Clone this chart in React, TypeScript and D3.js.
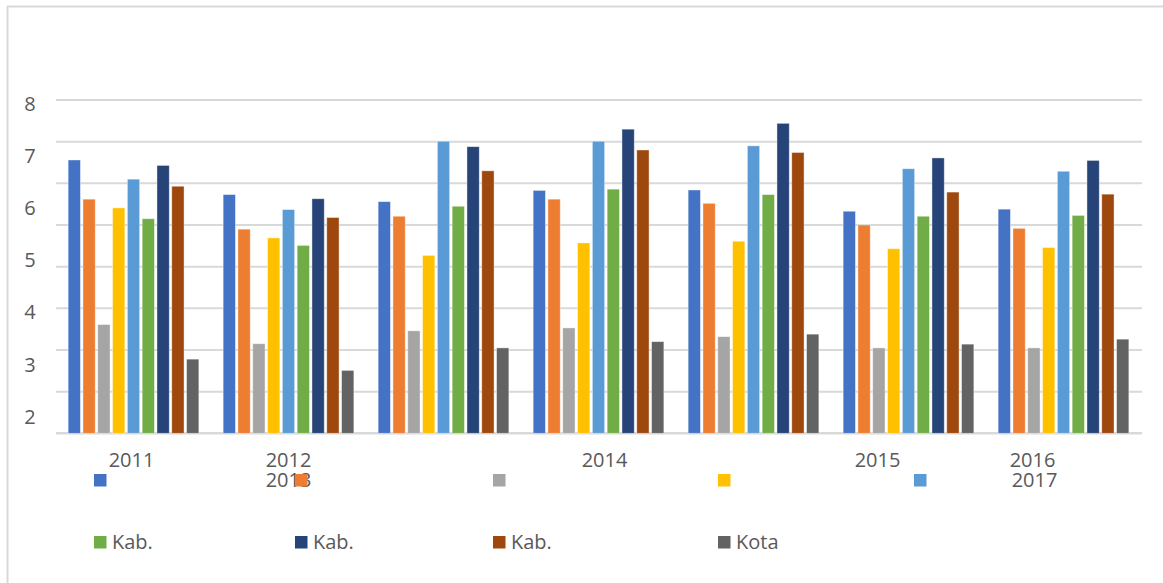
import React from 'react';
import * as d3 from 'd3';

// categories on the x axis (groups of bars)
const categories = ['2011', '2012', '2013', '2014', '2015', '2016', '2017'];

// series names as shown in the legend (most names are cut off in the original)
const seriesNames = ['', '', '', '', '', 'Kab.', 'Kab.', 'Kab.', 'Kota'];
const seriesColors = ['#4472c4', '#ed7d31', '#a5a5a5', '#ffc000', '#5b9bd5', '#70ad47', '#264478', '#9e480e', '#636363'];

// values per series, one per category (gridline units)
const s1 = [6.56, 5.73, 5.56, 5.83, 5.84, 5.33, 5.38];
const s2 = [5.62, 4.90, 5.21, 5.62, 5.52, 5.00, 4.92];
const s3 = [2.61, 2.15, 2.46, 2.53, 2.32, 2.05, 2.05];
const s4 = [5.41, 4.69, 4.27, 4.57, 4.61, 4.43, 4.46];
const s5 = [6.10, 5.37, 7.01, 7.01, 6.90, 6.35, 6.29];
const s6 = [5.15, 4.51, 5.45, 5.86, 5.73, 5.21, 5.23];
const s7 = [6.43, 5.63, 6.88, 7.30, 7.44, 6.61, 6.55];
const s8 = [5.93, 5.18, 6.30, 6.80, 6.74, 5.79, 5.74];
const s9 = [1.78, 1.51, 2.05, 2.20, 2.38, 2.14, 2.26];
const series = [s1, s2, s3, s4, s5, s6, s7, s8, s9];

// y tick labels (printed as in the original, not aligned with the gridlines)
const yTickLabels = ['8', '7', '6', '5', '4', '3', '2'];

const W = 1163;
const H = 583;
const TEXT = '#595959';
const GRID = '#d9d9d9';
const FONT = '"Open Sans", sans-serif';

export default function App() {
  const x0 = d3.scaleBand<string>().domain(categories).range([56, 1141]).padding(0);
  const x1 = d3.scaleBand<number>()
    .domain(d3.range(series.length))
    .range([0, x0.bandwidth()])
    .paddingInner(0.17)
    .paddingOuter(0.82);
  const y = d3.scaleLinear().domain([0, 8]).range([433.3, 100]);
  const yLab = d3.scalePoint<string>().domain(yTickLabels).range([103.5, 416.7]);

  // the x labels are scattered in the original: [category, group slot, row, dx]
  const xLabelSlots: [string, number, number, number][] = [
    ['2011', 0, 0, -2],
    ['2012', 1, 0, 0],
    ['2013', 1, 1, 0],
    ['2014', 3, 0, 6],
    ['2015', 5, 0, -31],
    ['2016', 6, 0, -31],
    ['2017', 6, 1, -29],
  ];

  const legendCols = [94, 295, 493, 718, 914];
  const legendRows = [474, 536];
  const sq = 12.5;

  return (
    <svg width={W} height={H} style={{ position: 'absolute', left: 0, top: 0, background: '#fff' }}>
      {/* chart frame */}
      <line x1={7} x2={W} y1={6.5} y2={6.5} stroke={GRID} strokeWidth={2} />
      <line x1={7.5} x2={7.5} y1={6} y2={H} stroke={GRID} strokeWidth={2} />

      {/* gridlines */}
      {y.ticks(8).map(t => (
        <line key={t} x1={56} x2={1142} y1={y(t)} y2={y(t)} stroke={GRID} strokeWidth={t === 0 ? 2.5 : 2} />
      ))}

      {/* y labels */}
      {yTickLabels.map(l => (
        <text key={l} x={30} y={yLab(l)} dy="0.35em" textAnchor="middle" fontFamily={FONT} fontSize={20} fill={TEXT}>
          {l}
        </text>
      ))}

      {/* bars */}
      {categories.map((c, ci) => (
        <g key={c} transform={`translate(${x0(c)},0)`}>
          {series.map((vals, si) => (
            <rect
              key={si}
              x={x1(si)}
              y={y(vals[ci])}
              width={x1.bandwidth()}
              height={y(0) - y(vals[ci])}
              fill={seriesColors[si]}
              stroke="#ffffff"
              strokeOpacity={0.5}
              strokeWidth={0.8}
            />
          ))}
        </g>
      ))}

      {/* x labels */}
      {xLabelSlots.map(([lab, slot, row, dx]) => (
        <text
          key={lab}
          x={(x0(categories[slot]) as number) + x0.bandwidth() / 2 + dx}
          y={467 + row * 20}
          textAnchor="middle"
          fontFamily={FONT}
          fontSize={20}
          fill={TEXT}
        >
          {lab}
        </text>
      ))}

      {/* legend */}
      {seriesNames.map((name, i) => {
        const lx = legendCols[i % legendCols.length];
        const ly = legendRows[Math.floor(i / legendCols.length)];
        return (
          <g key={i} transform={`translate(${lx},${ly})`}>
            <rect width={sq} height={sq} fill={seriesColors[i]} />
            <text x={18} y={sq / 2} dy="0.35em" fontFamily={FONT} fontSize={20} fill={TEXT}>
              {name}
            </text>
          </g>
        );
      })}
    </svg>
  );
}
